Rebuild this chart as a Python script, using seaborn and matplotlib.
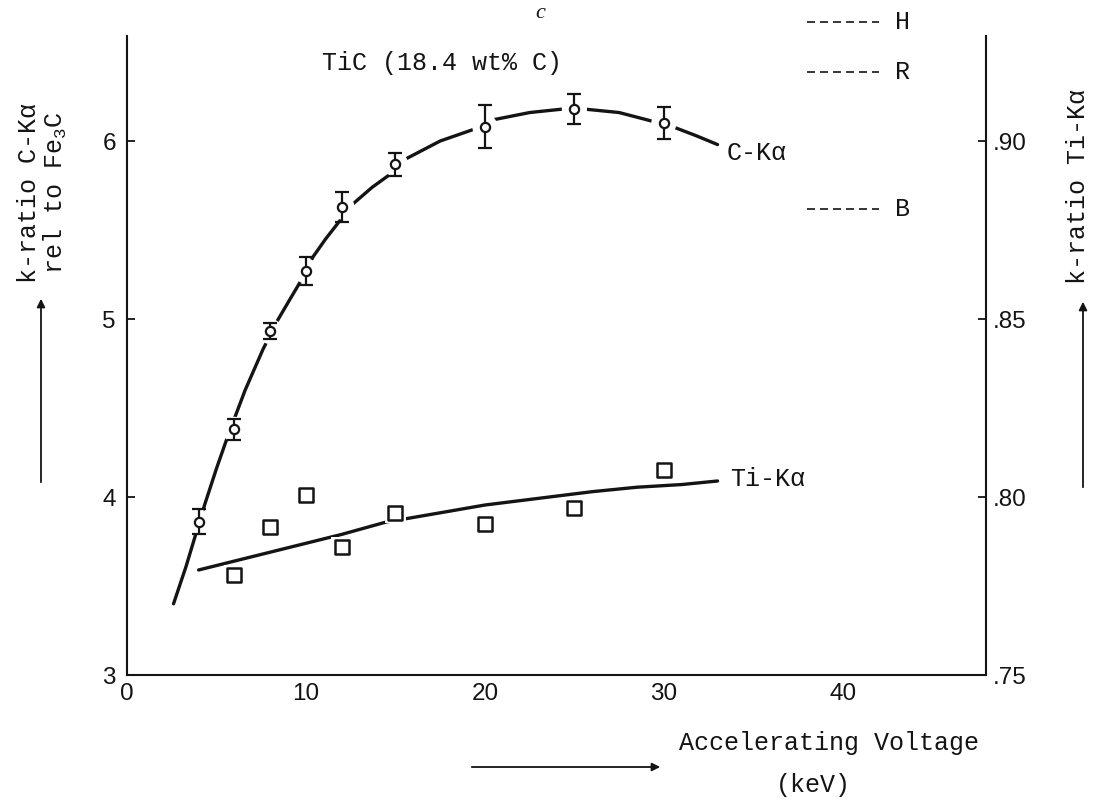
import matplotlib
matplotlib.use("Agg")
import matplotlib.pyplot as plt
from matplotlib.ticker import MultipleLocator
import seaborn as sns

# C-Ka k-ratio relative to Fe3C (left axis), measured points with error bars
voltage_c = [4, 6, 8, 10, 12, 15, 20, 25, 30]
k_c = [3.86, 4.38, 4.93, 5.27, 5.63, 5.87, 6.08, 6.18, 6.10]
k_c_err = [0.07, 0.06, 0.045, 0.08, 0.085, 0.065, 0.12, 0.085, 0.09]

# hand-drawn trend curve through the C-Ka points
curve_c_kv = [2.6, 3.3, 4.35, 5.0, 5.66, 6.6, 7.6, 8.4, 9.1, 9.75, 10.4, 11.1, 11.8,
              12.55, 13.7, 14.8, 15.4, 17.5, 19.5, 20.5, 22.5, 24.4, 25.5, 27.5,
              29.4, 30.5, 31.8, 33.0]
curve_c_k = [3.40, 3.61, 3.96, 4.16, 4.35, 4.60, 4.83, 4.99, 5.11, 5.22, 5.35, 5.45,
             5.54, 5.64, 5.74, 5.82, 5.89, 6.00, 6.07, 6.12, 6.16, 6.18, 6.18, 6.16,
             6.11, 6.08, 6.03, 5.98]

# Ti-Ka k-ratio (right axis)
voltage_ti = [6, 8, 10, 12, 15, 20, 25, 30]
k_ti = [0.778, 0.7915, 0.8005, 0.786, 0.7955, 0.7925, 0.797, 0.8075]

curve_ti_kv = [4.0, 6.0, 8.0, 10.0, 12.0, 14.5, 15.7, 18.0, 20.0, 23.6, 26.0, 28.5, 31.0, 33.0]
curve_ti_k = [0.7795, 0.782, 0.7845, 0.787, 0.7895, 0.793, 0.794, 0.796, 0.79775,
              0.800, 0.8015, 0.80275, 0.8035, 0.8045]

# reference levels marked beside the right axis
ref_names = ["H", "R", "B"]
ref_k_c = [6.67, 6.39, 5.62]

x_ticks = [0, 10, 20, 30, 40]
left_ticks = [3, 4, 5, 6]
right_ticks = [0.75, 0.80, 0.85, 0.90]
right_tick_labels = [".75", ".80", ".85", ".90"]

INK = "#141414"
MONO = ["Liberation Mono", "DejaVu Sans Mono"]

sns.set_theme(style="white")
plt.rcParams["font.family"] = MONO
plt.rcParams["mathtext.fontset"] = "custom"
plt.rcParams["mathtext.rm"] = "Liberation Mono"

W, H = 1096, 801
fig = plt.figure(figsize=(W / 100, H / 100), dpi=100)
fig.patch.set_facecolor("white")
ax = fig.add_axes([127 / W, 1 - 675 / H, (986 - 127) / W, (675 - 36) / H])
ax2 = ax.twinx()

ax.set_xlim(0, 48)
ax.set_ylim(3, 6.59)
ax2.set_ylim(0.75, 0.75 + 3.59 * 0.05)

# C-Ka curve, white halos to break the line at each point, then error bars and markers
sns.lineplot(x=curve_c_kv, y=curve_c_k, ax=ax, sort=False, estimator=None,
             color=INK, linewidth=2.4, zorder=2)
ax.scatter(voltage_c, k_c, s=330, color="white", edgecolor="none", zorder=3)
ax.errorbar(voltage_c, k_c, yerr=k_c_err, fmt="none", ecolor=INK,
            elinewidth=1.6, capsize=5, capthick=1.6, zorder=4)
sns.scatterplot(x=voltage_c, y=k_c, ax=ax, marker="o", s=44, color="white",
                edgecolor=INK, linewidth=1.6, zorder=5, legend=False)

# Ti-Ka curve and open squares
sns.lineplot(x=curve_ti_kv, y=curve_ti_k, ax=ax2, sort=False, estimator=None,
             color=INK, linewidth=2.4, zorder=2)
ax2.scatter(voltage_ti, k_ti, s=220, marker="s", color="white", edgecolor="none", zorder=3)
sns.scatterplot(x=voltage_ti, y=k_ti, ax=ax2, marker="s", s=95, color="white",
                edgecolor=INK, linewidth=1.8, zorder=5, legend=False)

# curve labels and sample title
ax.text(33.5, 5.93, "C-K\u03b1", fontsize=18, va="center", ha="left", color=INK)
ax.text(33.7, 4.10, "Ti-K\u03b1", fontsize=18, va="center", ha="left", color=INK)
ax.text(10.9, 6.44, "TiC (18.4 wt% C)", fontsize=18, va="center", ha="left", color=INK)

# reference levels
for name, level in zip(ref_names, ref_k_c):
    ax.plot([38.0, 42.0], [level, level], color=INK, linewidth=1.2,
            linestyle=(0, (4.8, 3.0)), clip_on=False)
    ax.text(42.9, level, name, fontsize=18, va="center", ha="left", color=INK,
            clip_on=False)

# axes styling
for a in (ax, ax2):
    a.spines["top"].set_visible(False)
    for s in a.spines.values():
        s.set_linewidth(1.5)
        s.set_color(INK)
    a.grid(False)
ax.spines["right"].set_visible(False)
ax2.spines["left"].set_visible(False)
ax2.spines["bottom"].set_visible(False)

ax.set_xticks(x_ticks, labels=[str(v) for v in x_ticks])
ax.xaxis.set_minor_locator(MultipleLocator(5))
ax.set_yticks(left_ticks, labels=[str(v) for v in left_ticks])
ax2.set_yticks(right_ticks, labels=right_tick_labels)

ax.tick_params(axis="x", which="both", direction="in", length=5, width=1.3,
               colors=INK, pad=6, labelsize=17.5,
               labelfontfamily=["Liberation Sans Narrow", "Liberation Sans"])
ax.tick_params(axis="y", direction="in", length=6, width=1.3, colors=INK, pad=8,
               labelsize=17.5, labelfontfamily=["Liberation Sans"])
ax2.tick_params(axis="y", direction="in", length=6, width=1.3, colors=INK, pad=5,
                labelsize=17.5, labelfontfamily=["Liberation Sans"])
ax.set_xlabel("")
ax.set_ylabel("")
ax2.set_ylabel("")

# axis titles with arrows, placed in figure pixels
def fx(px):
    return px / W

def fy(py):
    return 1 - py / H

fig.text(fx(43), fy(193), "k-ratio C-K\u03b1\nrel to Fe$_\\mathregular{3}$C", rotation=90,
         ha="center", va="center", multialignment="center", fontsize=18,
         linespacing=1.0, color=INK)
fig.text(fx(1078), fy(187), "k-ratio Ti-K\u03b1", rotation=90, ha="center", va="center",
         fontsize=18, color=INK)
fig.text(fx(829), fy(743), "Accelerating Voltage", ha="center", va="center",
         fontsize=18, color=INK)
fig.text(fx(813), fy(785), "(keV)", ha="center", va="center", fontsize=18, color=INK)
fig.text(fx(540), fy(13), "c", ha="center", va="center", fontsize=16, style="italic",
         family="Liberation Serif", color=INK)

arrow = dict(arrowstyle="-|>", color=INK, linewidth=1.3, mutation_scale=12)
fig.add_artist(matplotlib.patches.FancyArrowPatch((fx(41), fy(485)), (fx(41), fy(296)),
                                                  transform=fig.transFigure, **arrow))
fig.add_artist(matplotlib.patches.FancyArrowPatch((fx(1083), fy(490)), (fx(1083), fy(299)),
                                                  transform=fig.transFigure, **arrow))
fig.add_artist(matplotlib.patches.FancyArrowPatch((fx(469), fy(767)), (fx(663), fy(767)),
                                                  transform=fig.transFigure, **arrow))

fig.savefig("out.png", dpi=100, facecolor="white")
